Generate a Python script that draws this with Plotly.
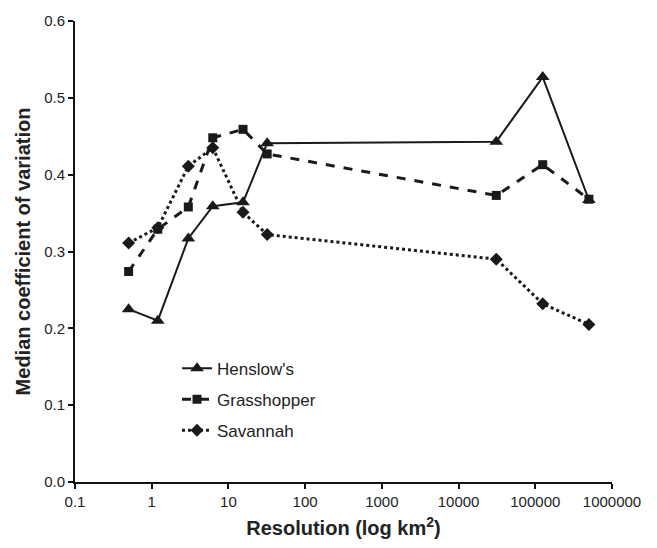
import plotly.graph_objects as go

resolution = [0.5, 1.2, 3, 6.25, 15.5, 32, 31000, 125000, 500000]
henslows = [0.225, 0.210, 0.317, 0.359, 0.364, 0.441, 0.443, 0.527, 0.367]
grasshopper = [0.274, 0.329, 0.358, 0.448, 0.459, 0.427, 0.373, 0.413, 0.368]
savannah = [0.311, 0.331, 0.411, 0.435, 0.351, 0.322, 0.290, 0.232, 0.205]

x_tickvals = [0.1, 1, 10, 100, 1000, 10000, 100000, 1000000]
x_ticktext = ["0.1", "1", "10", "100", "1000", "10000", "100000", "1000000"]

fig = go.Figure()
fig.add_trace(go.Scatter(x=resolution, y=henslows, name="Henslow's", mode="lines+markers",
                         legendgroup="h",
                         line=dict(color="#1a1a1a", width=2, dash="solid"),
                         marker=dict(symbol="triangle-up", size=12, color="#1a1a1a")))
fig.add_trace(go.Scatter(x=resolution, y=grasshopper, name="Grasshopper", mode="lines+markers",
                         legendgroup="g",
                         line=dict(color="#1a1a1a", width=3, dash="dash"),
                         marker=dict(symbol="square", size=9, color="#1a1a1a")))
fig.add_trace(go.Scatter(x=resolution, y=savannah, name="Savannah", mode="lines+markers",
                         legendgroup="s",
                         line=dict(color="#1a1a1a", width=3, dash="dot"),
                         marker=dict(symbol="diamond", size=10, color="#1a1a1a")))

fig.update_layout(
    width=657, height=548,
    margin=dict(l=75, r=45, t=17, b=60),
    paper_bgcolor="white", plot_bgcolor="white",
    font=dict(family="Arial, Liberation Sans, sans-serif", size=15, color="#222"),
    legend=dict(x=0.19, y=0.285, xanchor="left", yanchor="top",
                bgcolor="rgba(0,0,0,0)", font=dict(size=17, color="#222"),
                itemwidth=30, tracegroupgap=6),
    xaxis=dict(type="log", range=[-1, 6], tickvals=x_tickvals, ticktext=x_ticktext,
               showgrid=False, zeroline=False, showline=True, linecolor="#111", linewidth=2,
               ticks="outside", ticklen=5, tickwidth=2, tickcolor="#111",
               tickfont=dict(size=15, color="#222"),
               title=dict(text="<b>Resolution (log km<sup>2</sup>)</b>", font=dict(size=20, color="#222"), standoff=12)),
    yaxis=dict(range=[0, 0.6], tickvals=[0, 0.1, 0.2, 0.3, 0.4, 0.5, 0.6], tickformat=".1f",
               showgrid=False, zeroline=False, showline=True, linecolor="#111", linewidth=2,
               ticks="outside", ticklen=5, tickwidth=2, tickcolor="#111",
               tickfont=dict(size=15, color="#222"),
               title=dict(text="<b>Median coefficient of variation</b>", font=dict(size=20, color="#222"), standoff=8)),
    showlegend=True,
)

fig.write_html("out.html", config={"displayModeBar": False},
               post_script="document.body.style.margin='0';")
